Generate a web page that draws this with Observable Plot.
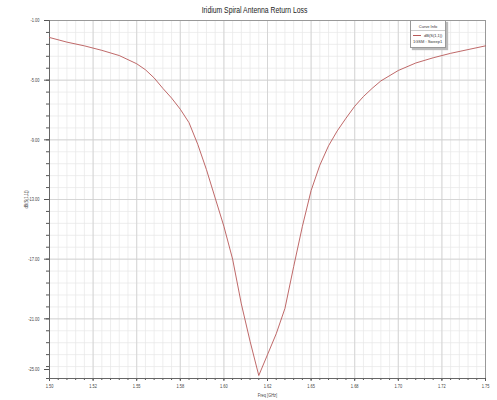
<!DOCTYPE html>
<html>
<head>
<meta charset="utf-8">
<script src="https://cdn.jsdelivr.net/npm/d3@7"></script>
<script src="https://cdn.jsdelivr.net/npm/@observablehq/plot@0.6"></script>
<style>
  html, body { margin: 0; padding: 0; background: #fff; }
  #wrap { position: relative; width: 497px; height: 400px; overflow: hidden; font-family: "Liberation Sans", Arial, sans-serif; }
  #title { position: absolute; left: 0; top: 5px; width: 497px; text-align: center; padding-left: 12px; box-sizing: border-box; font-size: 9px; color: #222; }
  #title span { display: inline-block; transform: scaleX(0.76); }
  #chart { position: absolute; left: 0; top: 16px; }
  #legend { position: absolute; left: 410px; top: 20px; width: 34px; height: 26px; background: #fff; border: 1px solid #999; box-shadow: 2px 2px 1px #bbb; font-size: 4px; color: #333; }
  #legend .hd { text-align: center; margin-top: 3px; border-bottom: 0.5px solid #ccc; padding-bottom: 1px; }
  #legend .row { display: flex; align-items: center; margin-top: 2px; padding-left: 2px; }
  #legend .sw { width: 8px; height: 1px; background: #b85858; margin-right: 3px; }
  #legend .sub { padding-left: 2px; margin-top: 1px; }
</style>
</head>
<body>
<div id="wrap">
  <div id="title"><span>Iridium Spiral Antenna Return Loss</span></div>
  <div id="chart"></div>
  <div id="legend">
    <div class="hd">Curve Info</div>
    <div class="row"><span class="sw"></span><span>dB(S(1,1))</span></div>
    <div class="sub">1GSM : Sweep1</div>
  </div>
</div>
<script>
// Data
const freq = [1.500, 1.510, 1.520, 1.530, 1.540, 1.550, 1.555, 1.560, 1.565, 1.570, 1.575, 1.580,
              1.585, 1.590, 1.595, 1.600, 1.605, 1.610, 1.615, 1.620, 1.625, 1.630, 1.635, 1.640,
              1.645, 1.650, 1.655, 1.660, 1.665, 1.670, 1.675, 1.680, 1.685, 1.690, 1.700, 1.710,
              1.720, 1.730, 1.740, 1.750];
const dBS11 = [-2.14, -2.45, -2.7, -3.0, -3.35, -3.9, -4.3, -4.85, -5.55, -6.2, -6.95, -7.85,
               -9.3, -11.0, -12.9, -14.8, -17.0, -20.0, -22.5, -24.8, -23.4, -22.0, -20.3, -17.5,
               -14.8, -12.4, -10.7, -9.4, -8.4, -7.55, -6.75, -6.1, -5.55, -5.05, -4.35, -3.85,
               -3.5, -3.2, -2.95, -2.7];

const xTicks = [1.5, 1.525, 1.55, 1.575, 1.6, 1.625, 1.65, 1.675, 1.7, 1.725, 1.75];
const xTickLabels = ["1.50", "1.52", "1.55", "1.58", "1.60", "1.62", "1.65", "1.68", "1.70", "1.72", "1.75"];
const yTicks = [-1, -5, -9, -13, -17, -21, -25];
const yTickLabels = ["-1.00", "-5.00", "-9.00", "-13.00", "-17.00", "-21.00", "-25.00"];

const xMinor = d3.range(0, 51).map(i => 1.5 + i * 0.005);
const yMinor = d3.range(0, 31).map(i => -25 + i * 0.8);

const data = freq.map((f, i) => ({f, v: dBS11[i]}));

const fmtX = d => xTickLabels[xTicks.indexOf(d)];
const fmtY = d => yTickLabels[yTicks.indexOf(d)];

const chart = Plot.plot({
  width: 497,
  height: 384,
  marginTop: 4,
  marginBottom: 22,
  marginLeft: 49,
  marginRight: 12,
  x: {domain: [1.5, 1.75]},
  y: {domain: [-25, -1]},
  style: {fontFamily: "'Liberation Sans', Arial, sans-serif", fontSize: "5.5px", color: "#444", background: "#fff"},
  marks: [
    Plot.gridX(xMinor, {stroke: "#e6e6e6", strokeOpacity: 1, strokeWidth: 0.7}),
    Plot.gridY(yMinor, {stroke: "#e6e6e6", strokeOpacity: 1, strokeWidth: 0.7}),
    Plot.gridX(xTicks, {stroke: "#cfcfcf", strokeOpacity: 1, strokeWidth: 0.8}),
    Plot.gridY(yTicks, {stroke: "#cfcfcf", strokeOpacity: 1, strokeWidth: 0.8}),
    Plot.frame({stroke: "#999"}),
    Plot.axisX(xMinor, {tickSize: 2, tickFormat: () => "", label: null, stroke: "#555"}),
    Plot.axisX(xTicks, {tickSize: 3, tickPadding: 3, tickFormat: fmtX, stroke: "#555",
      label: "Freq [GHz]", labelAnchor: "center", labelOffset: 18, labelArrow: "none"}),
    Plot.axisY(yMinor, {tickSize: 3, tickFormat: () => "", label: null, stroke: "#555"}),
    Plot.axisY(yTicks.slice(0, 6), {tickSize: 5, tickPadding: 5, tickFormat: fmtY, stroke: "#555",
      label: "dB(S(1,1))", labelAnchor: "center", labelOffset: 25, labelArrow: "none"}),
    Plot.axisY(yTicks.slice(6), {tickSize: 5, tickPadding: 5, tickFormat: fmtY, stroke: "#555", dy: -9, label: null}),
    Plot.ruleX([1.5], {stroke: "#666"}),
    Plot.ruleY([-25], {stroke: "#666"}),
    Plot.line(data, {x: "f", y: "v", stroke: "#b85858", strokeWidth: 0.9})
  ]
});
// condense the text like the narrow font of the original
chart.querySelectorAll("text").forEach(t => {
  const tr = t.getAttribute("transform") || "";
  t.setAttribute("transform", tr + " scale(0.72,1)");
});
document.getElementById("chart").appendChild(chart);
</script>
</body>
</html>
